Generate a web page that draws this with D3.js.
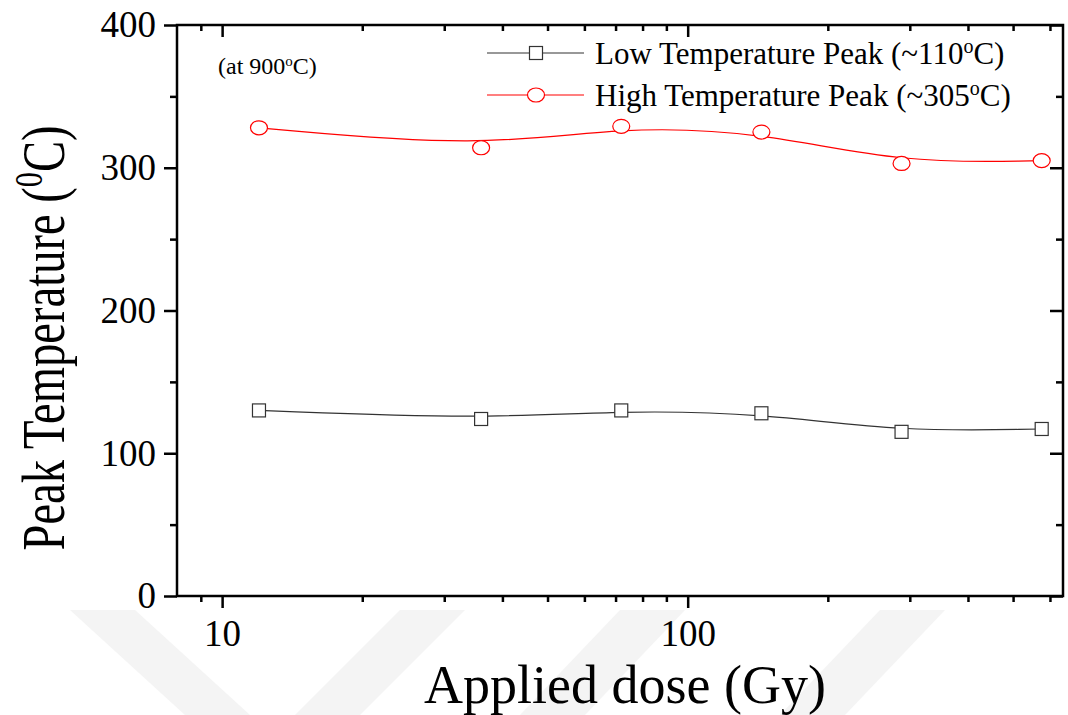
<!DOCTYPE html>
<html>
<head>
<meta charset="utf-8">
<script src="https://cdn.jsdelivr.net/npm/d3@7"></script>
<style>
  html, body { margin: 0; padding: 0; background: #fff; }
  svg text { font-family: "Liberation Serif", "Times New Roman", serif; fill: #000; }
</style>
</head>
<body>
<div id="chart"></div>
<script>
// applied dose (Gy)
const doses = [12, 36, 72, 144, 288, 576];
// peak positions (deg C)
const lowPeak = [130, 124, 130, 128, 115, 117];
const highPeak = [328, 314, 329, 325, 303, 305];

const xMajorTicks = [10, 100];
const xMinorTicks = [9, 20, 30, 40, 50, 60, 70, 80, 90, 200, 300, 400, 500, 600];
const yMajorTicks = [0, 100, 200, 300, 400];
const yMinorTicks = [50, 150, 250, 350];

const width = 1068, height = 715;
const margin = { left: 177, right: 5, top: 25, bottom: 119 };

const svg = d3.select("#chart")
  .append("svg")
  .attr("width", width)
  .attr("height", height);

// faint watermark stripes at the bottom
const stripes = [
  [[70, 610], [135, 610], [250, 715], [185, 715]],
  [[400, 610], [465, 610], [360, 715], [295, 715]],
  [[620, 610], [685, 610], [585, 715], [520, 715]],
  [[880, 610], [945, 610], [845, 715], [780, 715]]
];
svg.append("g")
  .selectAll("polygon")
  .data(stripes)
  .enter().append("polygon")
  .attr("points", d => d.map(p => p.join(",")).join(" "))
  .attr("fill", "#f4f4f4");

const x = d3.scaleLog()
  .domain([8, 640])
  .range([margin.left, width - margin.right]);

const y = d3.scaleLinear()
  .domain([0, 400])
  .range([height - margin.bottom, margin.top]);

const x0 = x.range()[0], x1 = x.range()[1];
const y0 = y.range()[0], y1 = y.range()[1];

function styleAxis(g) {
  g.select(".domain").remove();
  g.selectAll("line").attr("stroke", "#000").attr("stroke-width", 2.5);
  g.selectAll("text")
    .style("font-size", "37px")
    .attr("fill", "#000");
}

// bottom axis (ticks out)
svg.append("g")
  .attr("transform", `translate(0,${y0})`)
  .call(d3.axisBottom(x).tickValues(xMajorTicks).tickSize(12).tickPadding(12).tickFormat(d3.format("d")))
  .call(styleAxis);
svg.append("g")
  .attr("transform", `translate(0,${y0})`)
  .call(d3.axisBottom(x).tickValues(xMinorTicks).tickSize(6).tickFormat(""))
  .call(styleAxis);

// top axis (ticks in)
svg.append("g")
  .attr("transform", `translate(0,${y1})`)
  .call(d3.axisBottom(x).tickValues(xMajorTicks).tickSize(12).tickFormat(""))
  .call(styleAxis);
svg.append("g")
  .attr("transform", `translate(0,${y1})`)
  .call(d3.axisBottom(x).tickValues(xMinorTicks).tickSize(6).tickFormat(""))
  .call(styleAxis);

// left axis (ticks out)
svg.append("g")
  .attr("transform", `translate(${x0},0)`)
  .call(d3.axisLeft(y).tickValues(yMajorTicks).tickSize(13).tickPadding(8))
  .call(styleAxis);
svg.append("g")
  .attr("transform", `translate(${x0},0)`)
  .call(d3.axisLeft(y).tickValues(yMinorTicks).tickSize(7).tickFormat(""))
  .call(styleAxis);

// right axis (ticks in)
svg.append("g")
  .attr("transform", `translate(${x1},0)`)
  .call(d3.axisLeft(y).tickValues(yMajorTicks).tickSize(13).tickFormat(""))
  .call(styleAxis);
svg.append("g")
  .attr("transform", `translate(${x1},0)`)
  .call(d3.axisLeft(y).tickValues(yMinorTicks).tickSize(7).tickFormat(""))
  .call(styleAxis);

// frame
svg.append("rect")
  .attr("x", x0)
  .attr("y", y1)
  .attr("width", x1 - x0)
  .attr("height", y0 - y1)
  .attr("fill", "none")
  .attr("stroke", "#000")
  .attr("stroke-width", 2.5);

// series
const series = [
  { name: "Low Temperature Peak (~110", values: lowPeak, color: "#333", marker: "square" },
  { name: "High Temperature Peak (~305", values: highPeak, color: "#ff0000", marker: "circle" }
];

// smoothing B-spline, like the original plot
const line = d3.line()
  .x(d => x(d[0]))
  .y(d => y(d[1]))
  .curve(d3.curveBasis);

function drawMarker(g, type, color) {
  if (type === "square") {
    g.append("rect")
      .attr("x", -6.5).attr("y", -6.5)
      .attr("width", 13).attr("height", 13)
      .attr("fill", "#fff")
      .attr("stroke", color)
      .attr("stroke-width", 1.2);
  } else {
    g.append("ellipse")
      .attr("rx", 8.5).attr("ry", 7)
      .attr("fill", "#fff")
      .attr("stroke", color)
      .attr("stroke-width", 1.2);
  }
}

series.forEach(s => {
  const pts = doses.map((d, i) => [d, s.values[i]]);
  svg.append("path")
    .datum(pts)
    .attr("d", line)
    .attr("fill", "none")
    .attr("stroke", s.color)
    .attr("stroke-width", 1.2);

  svg.append("g")
    .selectAll("g")
    .data(pts)
    .enter().append("g")
    .attr("transform", d => `translate(${x(d[0])},${y(d[1])})`)
    .each(function () { drawMarker(d3.select(this), s.marker, s.color); });
});

// legend
const legend = svg.append("g");
series.forEach((s, i) => {
  const ly = 53 + i * 42;
  legend.append("line")
    .attr("x1", 487).attr("x2", 584)
    .attr("y1", ly).attr("y2", ly)
    .attr("stroke", s.color)
    .attr("stroke-width", 1.2);
  const m = legend.append("g").attr("transform", `translate(536,${ly})`);
  drawMarker(m, s.marker, s.color);
  const t = legend.append("text")
    .attr("x", 595)
    .attr("y", ly + 11)
    .style("font-size", "31px");
  t.append("tspan").text(s.name);
  t.append("tspan").attr("baseline-shift", "super").style("font-size", "20px").text("o");
  t.append("tspan").text("C)");
});

// annotation
const note = svg.append("text")
  .attr("x", 218)
  .attr("y", 74)
  .style("font-size", "24px");
note.append("tspan").text("(at 900");
note.append("tspan").attr("baseline-shift", "super").style("font-size", "15px").text("o");
note.append("tspan").text("C)");

// axis titles
svg.append("text")
  .attr("x", 625)
  .attr("y", 703)
  .attr("text-anchor", "middle")
  .style("font-size", "54px")
  .text("Applied dose (Gy)");

const yt = svg.append("text")
  .attr("transform", "translate(64,338) rotate(-90)")
  .attr("text-anchor", "middle")
  .attr("textLength", 425)
  .attr("lengthAdjust", "spacingAndGlyphs")
  .style("font-size", "62px");
yt.append("tspan").text("Peak Temperature (");
yt.append("tspan").attr("baseline-shift", "super").style("font-size", "40px").text("0");
yt.append("tspan").text("C)");
</script>
</body>
</html>
